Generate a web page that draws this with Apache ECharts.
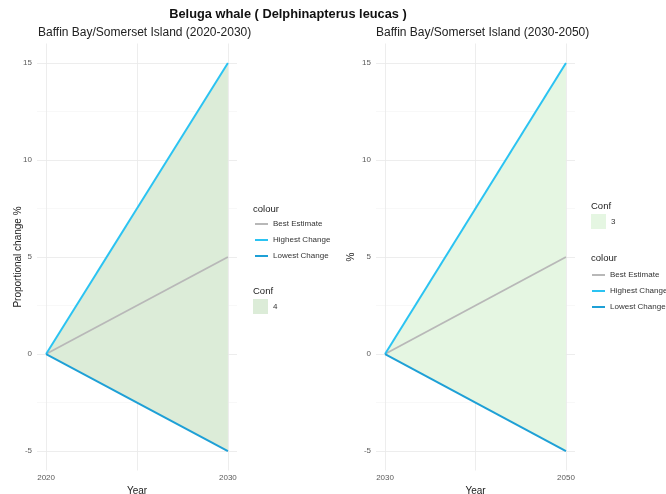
<!DOCTYPE html>
<html>
<head>
<meta charset="utf-8">
<script src="https://cdn.jsdelivr.net/npm/echarts@6/dist/echarts.min.js"></script>
<style>
  html, body { margin: 0; padding: 0; background: #fff; }
  #chart { width: 666px; height: 494px; }
</style>
</head>
<body>
<div id="chart"></div>
<script>
// panel 1 (2020-2030)
const years1 = [2020, 2030];
const best1 = [0, 5];
const high1 = [0, 15];
const low1 = [0, -5];
// panel 2 (2030-2050)
const years2 = [2030, 2050];
const best2 = [0, 5];
const high2 = [0, 15];
const low2 = [0, -5];

const yMajor = [-5, 0, 5, 10, 15];
const yMinor = [-2.5, 2.5, 7.5, 12.5];

const colBest = "#b8b8b8";
const colHigh = "#2bc3f2";
const colLow = "#1ea0d6";
const fill1 = "#dcecd8";
const fill2 = "#e5f6e2";

const pts = (xs, ys) => xs.map((x, i) => [x, ys[i]]);

function gridLines(xMajor) {
  const major = { color: "#e9e9e9", width: 0.8, type: "solid" };
  const minor = { color: "#f3f3f3", width: 0.6, type: "solid" };
  return {
    silent: true,
    symbol: "none",
    animation: false,
    z: 0,
    label: { show: false },
    emphasis: { disabled: true },
    data: [
      ...yMajor.map((v) => ({ yAxis: v, lineStyle: major })),
      ...yMinor.map((v) => ({ yAxis: v, lineStyle: minor })),
      ...xMajor.map((v) => ({ xAxis: v, lineStyle: major })),
    ],
  };
}

function panelSeries(idx, years, best, high, low, confName, fill, xMajor) {
  const common = {
    type: "line",
    xAxisIndex: idx,
    yAxisIndex: idx,
    symbol: "none",
    animation: false,
  };
  // the conf ribbon: both edges start at 0, so filling each edge to 0 fills the band
  const ribbon = (vals) => ({
    ...common,
    name: confName,
    data: pts(years, vals),
    lineStyle: { width: 0, opacity: 0 },
    itemStyle: { color: fill },
    areaStyle: { color: fill, opacity: 1, origin: 0 },
    silent: true,
    z: 1,
  });
  return [
    { ...ribbon(high), markLine: gridLines(xMajor) },
    ribbon(low),
    {
      ...common,
      name: "Best Estimate",
      data: pts(years, best),
      lineStyle: { color: colBest, width: 1.8 },
      itemStyle: { color: colBest },
      z: 3,
    },
    {
      ...common,
      name: "Highest Change",
      data: pts(years, high),
      lineStyle: { color: colHigh, width: 2 },
      itemStyle: { color: colHigh },
      z: 4,
    },
    {
      ...common,
      name: "Lowest Change",
      data: pts(years, low),
      lineStyle: { color: colLow, width: 2 },
      itemStyle: { color: colLow },
      z: 4,
    },
  ];
}

const tickText = { color: "#5a5a5a", fontSize: 8, fontFamily: "Liberation Sans" };
const nameText = { color: "#222", fontSize: 10, fontFamily: "Liberation Sans" };

function xAxis(idx, min, max, step, labels) {
  return {
    type: "value",
    gridIndex: idx,
    min: min,
    max: max,
    interval: step,
    name: "Year",
    nameLocation: "middle",
    nameGap: 14,
    nameTextStyle: nameText,
    axisLine: { show: false },
    axisTick: { show: false },
    splitLine: { show: false },
    axisLabel: {
      ...tickText,
      margin: 3,
      showMinLabel: false,
      showMaxLabel: false,
      formatter: (v) => (labels.includes(v) ? String(v) : ""),
    },
  };
}

function yAxis(idx, name, gap) {
  return {
    type: "value",
    gridIndex: idx,
    min: -6,
    max: 16,
    interval: 1,
    name: name,
    nameLocation: "middle",
    nameGap: gap,
    nameMoveOverlap: false,
    nameTextStyle: nameText,
    axisLine: { show: false },
    axisTick: { show: false },
    splitLine: { show: false },
    axisLabel: {
      ...tickText,
      margin: 5,
      formatter: (v) => (yMajor.includes(v) ? String(v) : ""),
    },
  };
}

const legendText = { color: "#333", fontSize: 8, fontFamily: "Liberation Sans", lineHeight: 10 };
const headText = { fill: "#222", fontSize: 9.5, fontFamily: "Liberation Sans" };
const colourItems = [
  { name: "Best Estimate", itemStyle: { color: colBest } },
  { name: "Highest Change", itemStyle: { color: colHigh } },
  { name: "Lowest Change", itemStyle: { color: colLow } },
];
const lineLegend = (left, top) => ({
  orient: "vertical",
  left: left,
  top: top,
  padding: 0,
  itemWidth: 13,
  itemHeight: 2,
  itemGap: 6,
  icon: "rect",
  textStyle: legendText,
  selectedMode: false,
  data: colourItems,
});
const fillLegend = (left, top, name, color) => ({
  orient: "vertical",
  left: left,
  top: top,
  padding: 0,
  itemWidth: 15,
  itemHeight: 15,
  icon: "rect",
  textStyle: legendText,
  selectedMode: false,
  data: [{ name: name, itemStyle: { color: color } }],
});

const chart = echarts.init(document.getElementById("chart"));
chart.setOption({
  backgroundColor: "#fff",
  animation: false,
  title: [
    {
      text: "Beluga whale ( Delphinapterus leucas )",
      left: 288,
      textAlign: "center",
      top: 8,
      padding: 0,
      textStyle: { fontSize: 12.8, fontWeight: "bold", color: "#111", fontFamily: "Liberation Sans" },
    },
    {
      text: "Baffin Bay/Somerset Island (2020-2030)",
      left: 38,
      top: 27,
      padding: 0,
      textStyle: { fontSize: 12, fontWeight: "normal", color: "#222", fontFamily: "Liberation Sans" },
    },
    {
      text: "Baffin Bay/Somerset Island (2030-2050)",
      left: 376,
      top: 27,
      padding: 0,
      textStyle: { fontSize: 12, fontWeight: "normal", color: "#222", fontFamily: "Liberation Sans" },
    },
  ],
  grid: [
    { left: 37, top: 43.5, width: 200, height: 427, outerBoundsMode: "none" },
    { left: 376, top: 43.5, width: 199, height: 427, outerBoundsMode: "none" },
  ],
  xAxis: [
    xAxis(0, 2019.5, 2030.5, 0.5, [2020, 2030]),
    xAxis(1, 2029, 2051, 1, [2030, 2050]),
  ],
  yAxis: [yAxis(0, "Proportional change %", 14), yAxis(1, "%", 20)],
  legend: [
    lineLegend(255, 219),
    fillLegend(253, 299, "4", fill1),
    fillLegend(591, 214, "3", fill2),
    lineLegend(592, 270),
  ],
  graphic: [
    { type: "text", left: 253, top: 204, style: { text: "colour", ...headText } },
    { type: "text", left: 253, top: 286, style: { text: "Conf", ...headText } },
    { type: "text", left: 591, top: 201, style: { text: "Conf", ...headText } },
    { type: "text", left: 591, top: 253, style: { text: "colour", ...headText } },
  ],
  series: [
    ...panelSeries(0, years1, best1, high1, low1, "4", fill1, [2020, 2025, 2030]),
    ...panelSeries(1, years2, best2, high2, low2, "3", fill2, [2030, 2040, 2050]),
  ],
});
</script>
</body>
</html>
